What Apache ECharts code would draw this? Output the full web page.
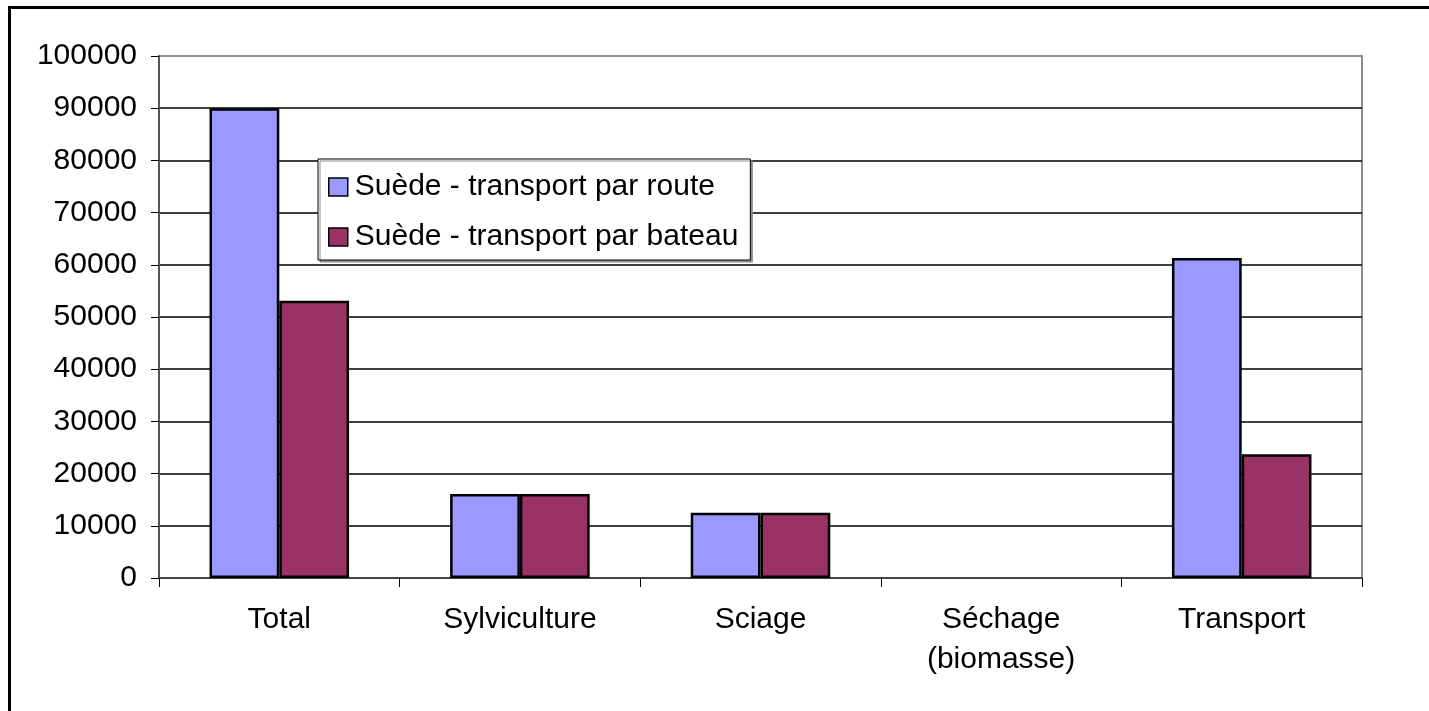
<!DOCTYPE html>
<html>
<head>
<meta charset="utf-8">
<script src="https://cdn.jsdelivr.net/npm/echarts@6/dist/echarts.min.js"></script>
<style>
  html, body { margin: 0; padding: 0; background: #fff; overflow: hidden; }
  #frame { position: absolute; left: 8px; top: 6px; width: 1500px; height: 800px; border-left: 3px solid #000; border-top: 3px solid #000; }
  #chart { position: absolute; left: 0; top: 0; width: 1429px; height: 711px; }
</style>
</head>
<body>
<div id="frame"></div>
<div id="chart"></div>
<script>
  const categories = ['Total', 'Sylviculture', 'Sciage', 'Séchage\n(biomasse)', 'Transport']
  const routeValues = [90000, 16100, 12500, 0, 61300]   /* transport par route */
  const bateauValues = [53100, 16100, 12500, 0, 23700]  /* transport par bateau */
  const seriesNames = ['Suède - transport par route', 'Suède - transport par bateau']
  const yTicks = [0, 10000, 20000, 30000, 40000, 50000, 60000, 70000, 80000, 90000, 100000]

  const font = 'Liberation Sans, Arial, sans-serif'
  const chart = echarts.init(document.getElementById('chart'))

  // lignes de grille noires, la ligne du haut grise (bord du graphique)
  const gridColors = yTicks.map((v, i) => i === yTicks.length - 1 ? '#8c8c8c' : '#000')

  // pas de contour pour une barre nulle
  const toBars = (values) => values.map(v => v === 0 ? { value: v, itemStyle: { borderWidth: 0 } } : v)

  const option = {
    animation: false,
    grid: {
      left: 159, top: 56, right: 67, bottom: 133,
      show: true,
      borderColor: '#8c8c8c',
      borderWidth: 2
    },
    legend: {
      orient: 'vertical',
      left: 318,
      top: 159,
      padding: [13, 12, 8, 10],
      itemGap: 20,
      itemWidth: 19,
      itemHeight: 18,
      icon: 'rect',
      backgroundColor: '#fff',
      borderColor: '#000',
      borderWidth: 1,
      shadowColor: '#8c8c8c',
      shadowOffsetX: 2,
      shadowOffsetY: 2,
      itemStyle: { borderColor: '#000', borderWidth: 1.5 },
      textStyle: { fontFamily: font, fontSize: 30, color: '#000', lineHeight: 30, padding: [0, 0, 0, 2] },
      data: seriesNames
    },
    xAxis: {
      type: 'category',
      data: categories,
      axisLine: { show: true, lineStyle: { color: '#444', width: 2 } },
      axisTick: { show: true, length: 9, lineStyle: { color: '#000', width: 1 } },
      axisLabel: {
        fontFamily: font, fontSize: 30, color: '#000',
        lineHeight: 40, margin: 22, interval: 0
      },
      splitLine: { show: false }
    },
    yAxis: {
      type: 'value',
      min: 0,
      max: 100000,
      interval: 10000,
      axisLine: { show: true, lineStyle: { color: '#555', width: 2 } },
      axisTick: { show: true, length: 8, lineStyle: { color: '#000', width: 1 } },
      axisLabel: { fontFamily: font, fontSize: 30, color: '#000', margin: 22, formatter: v => String(v) },
      splitLine: { show: true, lineStyle: { color: gridColors, width: 1.5 } }
    },
    series: [
      {
        name: seriesNames[0],
        type: 'bar',
        data: toBars(routeValues),
        barGap: '0%',
        barCategoryGap: '42%',
        itemStyle: { color: '#9999FF', borderColor: '#000', borderWidth: 2.5 }
      },
      {
        name: seriesNames[1],
        type: 'bar',
        data: toBars(bateauValues),
        barGap: '0%',
        barCategoryGap: '42%',
        itemStyle: { color: '#993366', borderColor: '#000', borderWidth: 2.5 }
      }
    ]
  }
  chart.setOption(option)
</script>
</body>
</html>
